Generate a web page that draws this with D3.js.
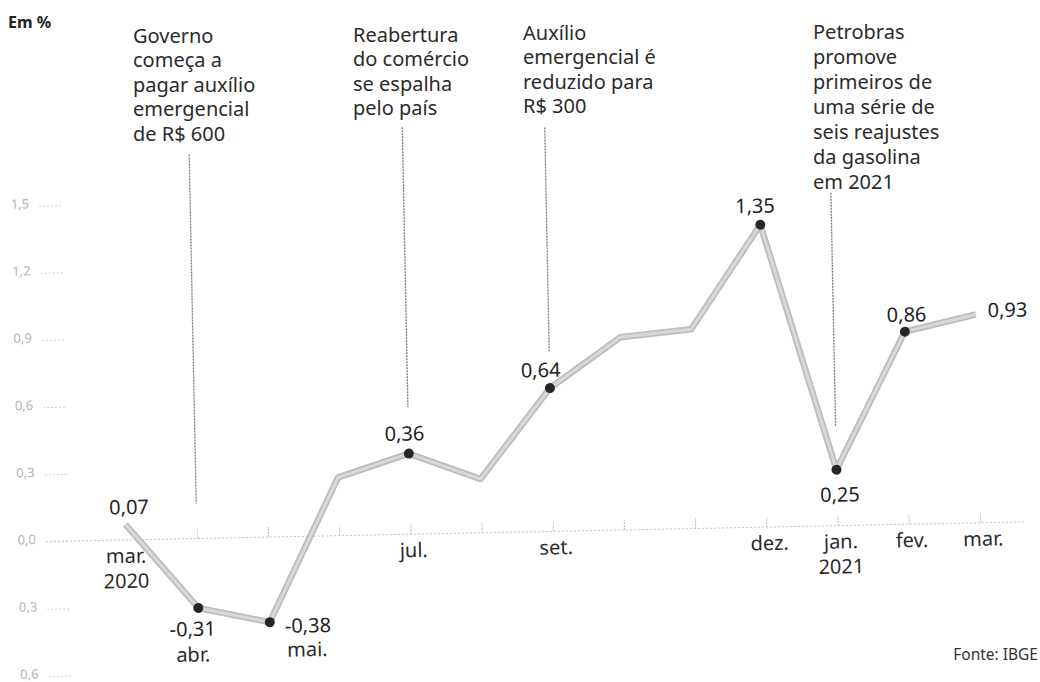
<!DOCTYPE html>
<html>
<head>
<meta charset="utf-8">
<script src="https://cdn.jsdelivr.net/npm/d3@7"></script>
<style>
  body { margin: 0; background: #fff; }
  text { font-family: "Noto Sans", sans-serif; }
</style>
</head>
<body>
<div id="chart"></div>
<script>
// IPCA mensal, mar. 2020 a mar. 2021
var months = ["mar.", "abr.", "mai.", "jun.", "jul.", "ago.", "set.", "out.", "nov.", "dez.", "jan.", "fev.", "mar."];
var years = ["2020", "", "", "", "", "", "", "", "", "", "2021", "", ""];
var shownMonths = [0, 1, 2, 4, 6, 9, 10, 11, 12];
var ipca = [0.07, -0.31, -0.38, 0.26, 0.36, 0.24, 0.64, 0.86, 0.89, 1.35, 0.25, 0.86, 0.93];
var valueLabels = ["0,07", "-0,31", "-0,38", "", "0,36", "", "0,64", "", "", "1,35", "0,25", "0,86", "0,93"];
var markedMonths = [1, 2, 4, 6, 9, 10, 11];

var yTicks = [-0.6, -0.3, 0, 0.3, 0.6, 0.9, 1.2, 1.5];
var yTickLabels = ["0,6", "0,3", "0,0", "0,3", "0,6", "0,9", "1,2", "1,5"];

var noteMonths = [1, 4, 6, 10];
var noteTexts = [
    ["Governo", "começa a", "pagar auxílio", "emergencial", "de R$ 600"],
    ["Reabertura", "do comércio", "se espalha", "pelo país"],
    ["Auxílio", "emergencial é", "reduzido para", "R$ 300"],
    ["Petrobras", "promove", "primeiros de", "uma série de", "seis reajustes", "da gasolina", "em 2021"]
];

var svgWidth = 1040;
var svgHeight = 682;

var svg = d3.select("#chart")
    .append("svg")
    .attr("width", svgWidth)
    .attr("height", svgHeight);

// the printed chart sits slightly tilted
var chartGroup = svg.append("g")
    .attr("transform", "rotate(-1.15, 520, 341)");

var xScale = d3.scaleLinear().domain([0, 12]).range([121.8, 976.2]);
var yScale = d3.scaleLinear().domain([-0.6, 1.5]).range([666.4, 196]);

// y axis
var leftAxis = d3.axisLeft(yScale)
    .tickValues(yTicks)
    .tickSize(22)
    .tickPadding(10)
    .tickFormat((d, i) => yTickLabels[i]);
var yAxisGroup = chartGroup.append("g")
    .attr("transform", "translate(64, 0)")
    .call(leftAxis);
yAxisGroup.select(".domain").remove();
yAxisGroup.selectAll("line")
    .attr("stroke", "#cfcfcf")
    .attr("stroke-dasharray", "2,2");
yAxisGroup.selectAll("text")
    .attr("fill", "#b4b4b4")
    .attr("dy", "0.15em")
    .style("font-size", "13px");

// baseline
chartGroup.append("line")
    .attr("x1", 42)
    .attr("x2", 1022)
    .attr("y1", yScale(0))
    .attr("y2", yScale(0))
    .attr("stroke", "#c4c4c4")
    .attr("stroke-dasharray", "2,2");

// month ticks
var bottomAxis = d3.axisBottom(xScale)
    .tickValues(d3.range(1, 13))
    .tickSize(-10)
    .tickFormat("");
var xAxisGroup = chartGroup.append("g")
    .attr("transform", `translate(0, ${yScale(0)})`)
    .call(bottomAxis);
xAxisGroup.select(".domain").remove();
xAxisGroup.selectAll("line")
    .attr("stroke", "#bdbdbd")
    .attr("stroke-dasharray", "2,1");

// annotation leader lines
var noteTop = [148, 125, 128, 199];
var noteBottom = [497, 405, 352, 433];
chartGroup.append("g")
    .selectAll("line")
    .data(noteMonths)
    .enter()
    .append("line")
    .attr("x1", d => xScale(d))
    .attr("x2", d => xScale(d))
    .attr("y1", (d, i) => noteTop[i])
    .attr("y2", (d, i) => noteBottom[i])
    .attr("stroke", "#7a7a7a")
    .attr("stroke-width", 1.3)
    .attr("stroke-dasharray", "2,1");

// the line
var lineGen = d3.line()
    .x((d, i) => xScale(i))
    .y(d => yScale(d));
chartGroup.append("path")
    .datum(ipca)
    .attr("d", lineGen)
    .attr("fill", "none")
    .attr("stroke", "#bcbcbc")
    .attr("stroke-width", 6.5)
    .attr("stroke-linejoin", "round");
chartGroup.append("path")
    .datum(ipca)
    .attr("d", lineGen)
    .attr("fill", "none")
    .attr("stroke", "#d8d8d8")
    .attr("stroke-width", 3)
    .attr("stroke-linejoin", "round");

// dots
chartGroup.append("g")
    .selectAll("circle")
    .data(markedMonths)
    .enter()
    .append("circle")
    .attr("cx", d => xScale(d))
    .attr("cy", d => yScale(ipca[d]))
    .attr("r", 5)
    .attr("fill", "#262626");

// value labels: [dx, dy, anchor]
var valuePlace = {
    0: [4, -10, "middle"],
    1: [-6, 28, "middle"],
    2: [15, 11, "start"],
    4: [-4, -13, "middle"],
    6: [-9, -11, "middle"],
    9: [-5, -12, "middle"],
    10: [3, 32, "middle"],
    11: [2, -10, "middle"],
    12: [12, 3, "start"]
};
chartGroup.append("g")
    .selectAll("text")
    .data(d3.range(ipca.length).filter(i => valueLabels[i] !== ""))
    .enter()
    .append("text")
    .attr("x", i => xScale(i) + valuePlace[i][0])
    .attr("y", i => yScale(ipca[i]) + valuePlace[i][1])
    .style("text-anchor", i => valuePlace[i][2])
    .style("font-size", "20px")
    .attr("fill", "#222")
    .text(i => valueLabels[i]);

// month labels
var monthPlace = { 0: [0, 555], 1: [-6, 655], 2: [37, 652] };
var monthText = chartGroup.append("g")
    .selectAll("text")
    .data(shownMonths)
    .enter()
    .append("text")
    .attr("x", i => xScale(i) + (monthPlace[i] ? monthPlace[i][0] : 3))
    .attr("y", i => monthPlace[i] ? monthPlace[i][1] : 555)
    .style("text-anchor", "middle")
    .style("font-size", "20px")
    .attr("fill", "#2b2b2b");
monthText.append("tspan")
    .text(i => months[i]);
monthText.append("tspan")
    .attr("x", i => xScale(i) + (monthPlace[i] ? monthPlace[i][0] : 3))
    .attr("dy", 25)
    .text(i => years[i]);

// annotation texts
var notePos = [[133, 43], [353, 42], [523, 40], [813, 39]];
var noteStep = [24.4, 24.4, 24.4, 25];
noteTexts.forEach(function(lines, n) {
    var t = svg.append("text")
        .attr("x", notePos[n][0])
        .attr("y", notePos[n][1])
        .style("font-size", "20px")
        .attr("fill", "#2b2b2b");
    t.selectAll("tspan")
        .data(lines)
        .enter()
        .append("tspan")
        .attr("x", notePos[n][0])
        .attr("y", (d, i) => notePos[n][1] + i * noteStep[n])
        .text(d => d);
});

// title and source
svg.append("text")
    .attr("x", 8)
    .attr("y", 28)
    .style("font-size", "16px")
    .style("font-weight", "bold")
    .attr("fill", "#222")
    .text("Em %");
svg.append("text")
    .attr("x", 1038)
    .attr("y", 660)
    .style("text-anchor", "end")
    .style("font-size", "15.5px")
    .attr("fill", "#333")
    .text("Fonte: IBGE");
</script>
</body>
</html>
